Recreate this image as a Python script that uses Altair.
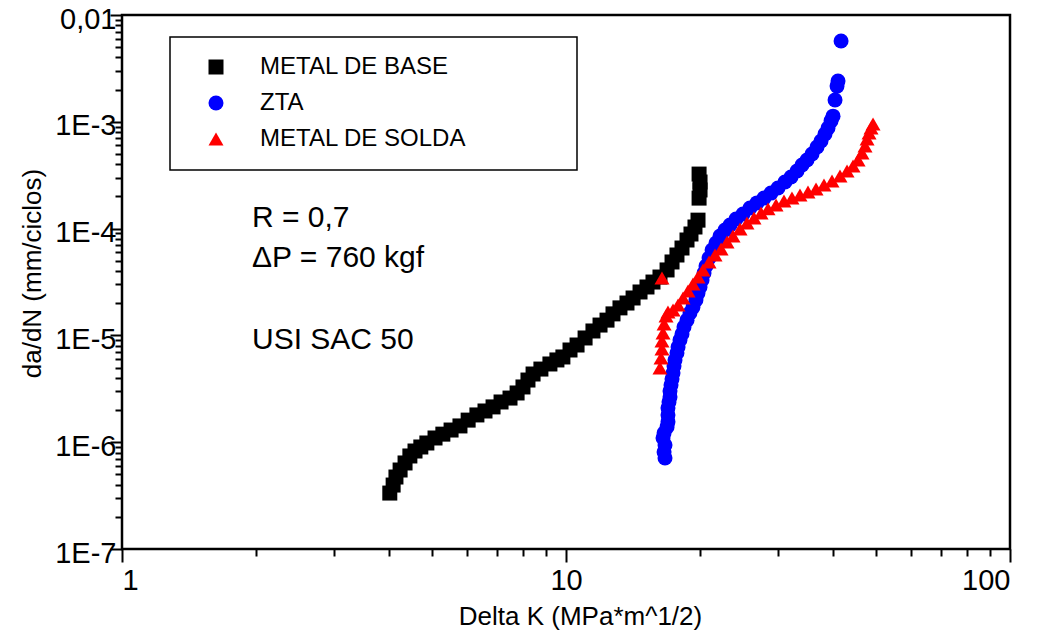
import altair as alt
import pandas as pd

FONT = "Liberation Sans"

# Series definitions
series_names = ["METAL DE BASE", "ZTA", "METAL DE SOLDA"]
series_colors = ["#000000", "#0000ff", "#ff0000"]
series_shapes = ["square", "circle", "triangle-up"]

# METAL DE BASE: Delta K (MPa*m^1/2) and da/dN (mm/ciclos)
base_dk = [4.01, 4.08, 4.14, 4.23, 4.34, 4.45, 4.57, 4.71, 4.86, 5.07,
           5.28, 5.51, 5.77, 6.02, 6.30, 6.57, 6.85, 7.14, 7.48, 7.76,
           8.00, 8.21, 8.43, 8.78, 9.20, 9.54, 9.84, 10.21, 10.59, 11.04,
           11.50, 11.93, 12.37, 12.76, 13.23, 13.72, 14.16, 14.68, 15.22, 15.70,
           16.28, 16.89, 17.33, 17.78, 18.25, 18.73, 19.12, 19.52, 19.83,
           19.94, 20.04, 20.04, 19.94]
base_dadn = [3.34e-7, 3.97e-7, 4.72e-7, 5.49e-7, 6.39e-7, 7.43e-7, 8.27e-7, 9.02e-7, 9.83e-7, 1.095e-6,
             1.19e-6, 1.30e-6, 1.42e-6, 1.61e-6, 1.80e-6, 1.96e-6, 2.14e-6, 2.38e-6, 2.59e-6, 2.89e-6,
             3.29e-6, 3.82e-6, 4.35e-6, 4.84e-6, 5.40e-6, 5.89e-6, 6.28e-6, 7.30e-6, 8.13e-6, 9.46e-6,
             1.10e-5, 1.25e-5, 1.39e-5, 1.59e-5, 1.81e-5, 2.01e-5, 2.24e-5, 2.55e-5, 2.84e-5, 3.16e-5,
             3.52e-5, 4.10e-5, 4.87e-5, 5.66e-5, 6.58e-5, 7.82e-5, 8.90e-5, 1.035e-4, 1.20e-4,
             1.93e-4, 2.30e-4, 2.73e-4, 3.24e-4]

# ZTA
zta_dk = [16.71, 16.63, 16.71, 16.54, 16.63, 16.89, 16.97, 16.97, 16.97, 17.06,
          17.15, 17.15, 17.24, 17.33, 17.42, 17.51, 17.60, 17.78, 17.88, 18.06,
          18.25, 18.44, 18.73, 19.02, 19.32, 19.62, 19.83, 20.04, 20.25, 20.46,
          20.67, 21.00, 21.33, 21.77, 22.23, 22.81, 23.41, 24.15, 25.04, 25.96,
          26.92, 27.92, 28.95, 30.02, 31.13, 32.12, 33.14, 34.01, 34.90, 35.82,
          36.76, 37.53, 38.31, 38.92, 39.53, 39.94, 40.36, 40.78, 40.99, 41.64]
zta_dadn = [7.11e-7, 8.09e-7, 9.41e-7, 1.095e-6, 1.22e-6, 1.39e-6, 1.55e-6, 1.80e-6, 2.09e-6, 2.38e-6,
            2.65e-6, 3.02e-6, 3.43e-6, 3.91e-6, 4.44e-6, 5.17e-6, 5.89e-6, 6.84e-6, 7.79e-6, 9.06e-6,
            1.03e-5, 1.20e-5, 1.39e-5, 1.62e-5, 1.84e-5, 2.15e-5, 2.49e-5, 2.84e-5, 3.30e-5, 3.84e-5,
            4.47e-5, 5.30e-5, 6.30e-5, 7.33e-5, 8.52e-5, 9.70e-5, 1.08e-4, 1.23e-4, 1.37e-4, 1.56e-4,
            1.74e-4, 1.93e-4, 2.15e-4, 2.40e-4, 2.73e-4, 3.04e-4, 3.46e-4, 3.94e-4, 4.39e-4, 4.99e-4,
            5.81e-4, 6.61e-4, 7.69e-4, 8.75e-4, 1.02e-3, 1.13e-3, 1.60e-3, 2.16e-3, 2.41e-3, 5.71e-3]

# METAL DE SOLDA
solda_dk = [16.45, 16.28, 16.37, 16.45, 16.45, 16.54, 16.63, 16.80, 16.97, 17.42,
            17.88, 18.35, 18.83, 19.32, 19.83, 20.35, 21.00, 21.66, 22.35, 23.05,
            23.78, 24.66, 25.56, 26.51, 27.50, 28.51, 29.72, 30.97, 32.28, 33.65,
            35.08, 36.57, 38.11, 39.73, 41.41, 42.95, 44.31, 45.48, 46.42, 47.15,
            47.65, 48.14, 48.64, 49.15]
solda_dadn = [3.45e-5, 4.95e-6, 6.14e-6, 7.46e-6, 8.86e-6, 1.053e-5, 1.28e-5, 1.52e-5, 1.66e-5, 1.73e-5,
              1.93e-5, 2.24e-5, 2.60e-5, 3.03e-5, 3.52e-5, 4.10e-5, 4.87e-5, 5.66e-5, 6.44e-5, 7.49e-5,
              8.52e-5, 9.91e-5, 1.13e-4, 1.26e-4, 1.40e-4, 1.53e-4, 1.66e-4, 1.81e-4, 1.93e-4, 2.06e-4,
              2.20e-4, 2.35e-4, 2.56e-4, 2.79e-4, 3.11e-4, 3.46e-4, 3.86e-4, 4.39e-4, 5.10e-4, 5.93e-4,
              6.90e-4, 7.86e-4, 8.75e-4, 9.54e-4]

# Axis ticks
x_major = [1, 10, 100]
x_minor = [k * 10 ** e for e in range(0, 2) for k in range(2, 10)]
y_major = [1e-7, 1e-6, 1e-5, 1e-4, 1e-3, 1e-2]
y_minor = [k * 10.0 ** e for e in range(-7, -2) for k in range(2, 10)]

# Test conditions
notes = ["R = 0,7", "\u0394P = 760 kgf", "USI SAC 50"]

frames = []
for name, dk, dadn in [(series_names[0], base_dk, base_dadn),
                       (series_names[1], zta_dk, zta_dadn),
                       (series_names[2], solda_dk, solda_dadn)]:
    frames.append(pd.DataFrame({"dK": dk, "dadN": dadn, "series": name}))
df = pd.concat(frames, ignore_index=True)
df["idx"] = range(len(df))

x_scale = alt.Scale(type="log", domain=[1, 100], nice=False)
y_scale = alt.Scale(type="log", domain=[1e-7, 1e-2], nice=False)

legend = alt.Legend(
    title=None, orient="none", legendX=82, legendY=40, direction="vertical",
    symbolSize=225, symbolStrokeWidth=0, labelFont=FONT, labelFontSize=24,
    labelColor="black", labelOffset=32, labelLimit=400, rowPadding=12, padding=0,
)

points = alt.Chart(df).mark_point(filled=True, opacity=1, size=225, strokeWidth=0).encode(
    x=alt.X("dK:Q", scale=x_scale, axis=alt.Axis(
        values=x_major, format="d", orient="bottom", grid=False, domain=False,
        tickSize=13, tickWidth=2, tickColor="black",
        labelFont=FONT, labelFontSize=29, labelColor="black", labelPadding=4,
        title="Delta K (MPa*m^1/2)", titleFont=FONT, titleFontSize=26,
        titleFontWeight="normal", titleColor="black",
        titleX=458, titleY=67, titleAlign="center", titleBaseline="middle")),
    y=alt.Y("dadN:Q", scale=y_scale, axis=alt.Axis(
        values=y_major, orient="left", grid=False, domain=False,
        labelExpr="datum.value >= 0.005 ? '0,01' : '1E-' + round(-log(datum.value) / LN10)",
        tickSize=12, tickWidth=2, tickColor="black",
        labelFont=FONT, labelFontSize=29, labelColor="black", labelPadding=-6, labelOffset=4,
        title="da/dN (mm/ciclos)", titleFont=FONT, titleFontSize=26,
        titleFontWeight="normal", titleColor="black",
        titleX=-90, titleY=258, titleAngle=-90, titleAlign="center", titleBaseline="middle")),
    color=alt.Color("series:N", scale=alt.Scale(domain=series_names, range=series_colors), legend=legend),
    shape=alt.Shape("series:N", scale=alt.Scale(domain=series_names, range=series_shapes), legend=legend),
    order=alt.Order("idx:Q"),
)

# Minor tick marks on both log axes
minor = alt.Chart(df).mark_point(opacity=0).encode(
    x=alt.X("dK:Q", scale=x_scale, title=None, axis=alt.Axis(
        values=x_minor, orient="bottom", labels=False, domain=False, grid=False,
        tickSize=7, tickWidth=2, tickColor="black")),
    y=alt.Y("dadN:Q", scale=y_scale, title=None, axis=alt.Axis(
        values=y_minor, orient="left", labels=False, domain=False, grid=False,
        tickSize=7, tickWidth=2, tickColor="black")),
)

# Frame around the legend
legend_box = alt.Chart(alt.Data(values=[{}])).mark_rect(
    fillOpacity=0, stroke="black", strokeWidth=1.5
).encode(x=alt.value(48), x2=alt.value(455), y=alt.value(22), y2=alt.value(155))

note_y = [203, 243, 325]
note_layers = [
    alt.Chart(alt.Data(values=[{"t": t}])).mark_text(
        font=FONT, fontSize=30, color="black", align="left", baseline="middle"
    ).encode(x=alt.value(130), y=alt.value(note_y[i]), text="t:N")
    for i, t in enumerate(notes)
]

chart = alt.layer(minor, points, legend_box, *note_layers).resolve_axis(
    x="independent", y="independent"
).properties(
    width=888, height=534,
    padding={"left": 122, "top": 15, "right": 39, "bottom": 87},
    autosize=alt.AutoSizeParams(type="none"),
    background="white",
).configure_view(stroke="black", strokeWidth=2.5)

chart.save("out.html", embed_options={"renderer": "svg", "actions": False})
